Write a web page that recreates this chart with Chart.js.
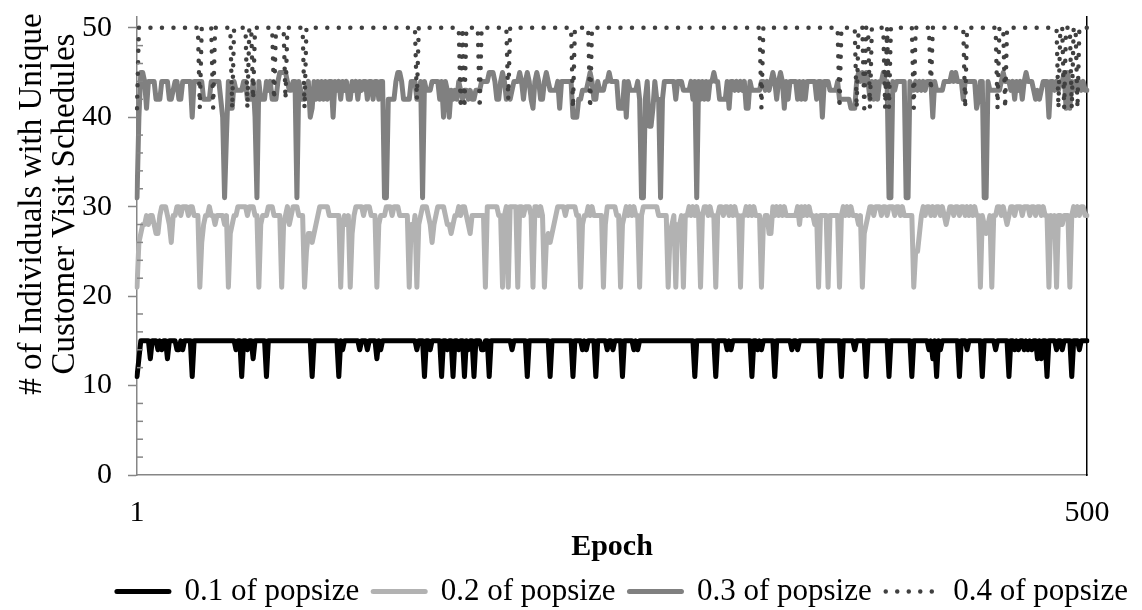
<!DOCTYPE html>
<html>
<head>
<meta charset="utf-8">
<script src="https://cdn.jsdelivr.net/npm/chart.js@4.4.1/dist/chart.umd.min.js"></script>
<style>
  html, body { margin: 0; padding: 0; background: #fff; }
</style>
</head>
<body>
<canvas id="chart" width="1142" height="610"></canvas>
<script>
const epochCount = 500;
const xTickLabels = ['1', '500'];
const yTickLabels = [0, 10, 20, 30, 40, 50];
const yMinorStep = 2;
const seriesNames = ['0.1 of popsize', '0.2 of popsize', '0.3 of popsize', '0.4 of popsize'];

// usual level of each series; the lists below hold every epoch that differs from it, as [epoch, value]
const baseLevels = [15, 30, 44, 50];

const dips01 = [[1,11],[2,13],[8,13],[12,14],[14,14],[17,13],[22,14],[23,14],[25,14],[30,11],[53,14],[56,11],[59,14],[62,13],
  [69,11],[93,11],[107,11],[109,14],[118,14],[122,14],[127,13],[129,14],[148,14],[152,11],[155,14],[161,11],[164,14],[167,11],
  [170,14],[173,11],[175,14],[178,11],[182,14],[183,14],[186,11],[198,14],[206,11],[218,11],[230,11],[235,14],[237,14],[242,11],
  [248,14],[251,14],[256,11],[262,14],[264,14],[294,11],[305,11],[311,14],[313,14],[324,11],[327,14],[329,14],[336,11],[345,14],
  [348,14],[360,11],[371,11],[378,14],[384,11],[396,11],[408,11],[417,14],[419,13],[421,11],[423,14],[433,11],[437,14],[445,11],
  [452,14],[459,11],[462,14],[464,14],[467,14],[469,14],[471,14],[474,13],[476,13],[479,11],[484,14],[487,14],[492,11],[496,14]];

const dips02 = [[1,21],[2,26],[3,27],[4,28],[5,28],[6,29],[7,28],[8,29],[9,29],[10,28],[11,27],[12,27],[13,29],[17,29],[18,28],
  [19,26],[20,29],[21,29],[24,29],[28,29],[31,29],[32,29],[33,29],[34,21],[35,26],[36,28],[37,29],[38,29],[40,29],[41,29],[42,28],
  [43,29],[44,29],[45,29],[46,29],[47,28],[48,29],[49,21],[50,27],[51,28],[52,29],[53,29],[59,29],[63,29],[64,29],[65,21],[66,28],
  [67,29],[68,29],[69,29],[73,29],[74,29],[75,29],[76,29],[77,21],[78,28],[79,29],[81,28],[82,29],[86,29],[87,29],[88,29],[89,21],
  [90,25],[91,27],[92,27],[93,26],[94,27],[95,28],[96,29],[102,29],[103,29],[104,29],[105,29],[106,29],[107,29],[108,21],[109,28],
  [110,29],[111,28],[112,29],[113,21],[114,27],[115,29],[120,29],[124,29],[125,29],[126,29],[127,21],[128,28],[129,29],[130,29],
  [131,29],[135,29],[139,29],[140,29],[141,29],[142,29],[143,29],[144,21],[145,28],[146,27],[147,29],[148,21],[149,28],[150,29],
  [154,29],[155,28],[156,26],[157,28],[158,29],[163,29],[164,28],[165,28],[166,27],[167,28],[168,29],[169,29],[171,29],[174,29],
  [175,28],[176,27],[177,29],[178,29],[179,29],[180,29],[181,29],[182,29],[183,29],[184,21],[191,29],[192,29],[193,21],[194,29],
  [196,21],[201,21],[204,29],[208,29],[209,21],[212,29],[214,29],[215,21],[216,26],[217,27],[218,26],[219,27],[220,28],[221,29],
  [226,29],[232,29],[233,29],[234,21],[235,28],[236,29],[237,29],[239,29],[241,29],[242,29],[243,29],[244,29],[245,29],[246,21],
  [247,28],[253,29],[254,29],[255,21],[256,28],[257,29],[259,29],[261,29],[263,29],[264,29],[265,21],[266,29],[275,29],[276,29],
  [277,29],[278,29],[279,29],[280,21],[281,27],[282,28],[283,29],[284,21],[285,28],[286,28],[287,29],[288,21],[289,29],[290,29],
  [292,29],[294,29],[296,29],[297,21],[298,29],[301,29],[303,29],[304,29],[305,21],[306,29],[309,29],[312,29],[314,29],[316,29],
  [317,29],[318,21],[319,29],[320,29],[322,29],[324,29],[326,29],[327,29],[328,29],[329,21],[330,28],[331,29],[332,29],[333,27],
  [334,27],[336,29],[338,29],[340,29],[342,29],[343,29],[344,29],[345,29],[346,29],[347,29],[349,28],[351,29],[353,29],[355,29],
  [356,29],[357,28],[358,29],[359,21],[360,29],[361,29],[362,29],[363,29],[364,21],[365,29],[366,29],[367,29],[368,29],[369,29],
  [370,21],[371,29],[373,29],[375,29],[377,29],[378,29],[379,29],[380,28],[381,29],[382,21],[383,27],[384,28],[385,29],[388,29],
  [392,29],[395,29],[399,29],[402,29],[404,29],[405,29],[406,29],[407,29],[408,29],[409,21],[410,25],[411,25],[412,27],[413,29],
  [415,29],[418,29],[420,29],[423,29],[425,29],[426,28],[427,29],[430,29],[433,29],[436,29],[438,29],[440,29],[442,29],[443,29],
  [444,21],[445,29],[446,28],[447,27],[448,28],[449,29],[450,21],[451,29],[452,29],[455,29],[457,29],[458,28],[459,29],[462,29],
  [466,29],[470,29],[473,29],[476,29],[478,29],[479,29],[480,21],[481,29],[482,28],[483,29],[484,21],[485,29],[486,29],[487,28],
  [488,29],[489,29],[490,29],[491,21],[492,29],[494,29],[496,29],[499,29],[500,29]];

const dips03 = [[1,31],[2,40],[3,45],[4,45],[6,41],[11,42],[12,42],[13,42],[18,42],[19,42],[20,43],[23,42],[24,42],[30,40],
  [36,42],[37,42],[38,42],[39,42],[45,42],[46,40],[47,31],[48,38],[50,41],[51,41],[53,43],[54,43],[55,43],[56,43],[59,42],[60,42],
  [61,42],[63,40],[64,31],[66,42],[67,42],[68,42],[70,43],[72,42],[73,42],[74,42],[76,45],[77,45],[78,45],[79,45],[81,43],[82,43],
  [85,31],[87,43],[88,42],[89,42],[90,43],[92,40],[93,41],[95,42],[97,42],[99,42],[101,42],[104,40],[106,43],[108,42],[110,43],
  [112,42],[113,42],[115,43],[117,42],[119,43],[122,42],[125,42],[128,42],[131,31],[132,31],[133,42],[134,42],[135,42],[136,42],
  [138,45],[139,45],[141,42],[142,42],[143,42],[144,42],[148,42],[149,42],[151,31],[153,43],[154,43],[155,43],[160,42],[162,40],
  [164,43],[165,40],[166,43],[167,42],[168,43],[169,42],[171,43],[172,42],[173,43],[174,43],[175,42],[176,43],[177,42],[178,42],
  [179,43],[180,43],[181,43],[186,45],[187,45],[188,45],[190,42],[191,42],[193,45],[195,42],[196,43],[197,42],[198,43],[202,45],
  [204,42],[206,45],[208,42],[209,41],[211,45],[213,42],[214,42],[216,45],[218,43],[219,43],[220,43],[221,43],[223,41],[230,40],
  [231,40],[232,40],[233,42],[234,42],[235,43],[236,43],[237,43],[239,45],[241,42],[242,42],[244,43],[245,43],[246,43],[249,45],
  [254,41],[255,41],[256,41],[258,40],[260,43],[261,43],[262,43],[263,43],[265,42],[266,31],[267,31],[268,42],[270,39],[271,39],
  [272,41],[274,42],[275,42],[276,31],[277,42],[284,42],[288,43],[289,43],[290,43],[291,43],[293,42],[295,31],[297,42],[299,42],
  [301,42],[304,45],[307,42],[308,42],[309,42],[310,42],[312,41],[315,43],[317,43],[319,43],[321,41],[322,41],[324,43],[325,43],
  [326,43],[327,43],[328,43],[331,43],[333,43],[335,45],[337,42],[339,45],[341,41],[343,42],[348,42],[350,42],[352,42],[358,42],
  [361,40],[365,43],[366,43],[367,43],[368,43],[370,42],[371,42],[372,42],[373,42],[374,42],[375,42],[376,41],[377,41],[378,41],
  [380,45],[382,45],[384,45],[386,42],[388,42],[390,42],[393,45],[396,31],[397,31],[399,43],[405,31],[406,31],[408,43],[409,43],
  [411,43],[413,43],[415,43],[419,40],[421,43],[422,43],[423,43],[424,43],[429,45],[431,45],[435,42],[442,41],[443,42],[446,31],
  [447,31],[449,43],[450,43],[451,43],[452,43],[453,43],[454,43],[456,45],[460,43],[462,42],[464,43],[466,42],[468,45],[472,43],
  [473,42],[474,43],[475,42],[476,43],[480,40],[483,43],[485,43],[488,45],[489,41],[490,45],[491,41],[493,43],[495,43],[497,43],
  [499,43],[500,43]];

const dips04 = [[1,41],[34,41],[41,41],[51,41],[59,41],[62,42],[73,42],[79,42],[89,41],[148,42],[171,41],[173,41],[181,41],
  [196,42],[230,41],[239,41],[329,41],[370,41],[379,41],[383,41],[386,41],[394,41],[396,41],[409,41],[418,43],[436,41],[453,41],
  [457,41],[485,41],[488,41],[492,41],[495,41]];

function buildSeries(level, changes) {
    let values = new Array(epochCount).fill(level);
    changes.forEach(([epoch, value]) => { values[epoch - 1] = value; });
    return values;
}

const epochs = Array.from({ length: epochCount }, (_, i) => String(i + 1));

Chart.defaults.font.family = '"Liberation Serif", "Times New Roman", serif';
Chart.defaults.color = '#000';

// small inward ticks between the labelled values on the y axis
const minorTicks = {
    id: 'minorTicks',
    afterDraw(chart) {
        const ctx = chart.ctx;
        const scale = chart.scales.y;
        const left = chart.chartArea.left;
        ctx.save();
        ctx.strokeStyle = '#868686';
        ctx.lineWidth = 1.5;
        for (let v = 0; v <= yTickLabels[yTickLabels.length - 1]; v += yMinorStep) {
            if (yTickLabels.includes(v)) continue;
            const py = scale.getPixelForValue(v);
            ctx.beginPath();
            ctx.moveTo(left, py);
            ctx.lineTo(left + 6, py);
            ctx.stroke();
        }
        ctx.restore();
    }
};

// y title sits higher than the plot centre, as in the original
const yTitle = {
    id: 'yTitle',
    afterDraw(chart) {
        const ctx = chart.ctx;
        ctx.save();
        ctx.translate(32, 204);
        ctx.rotate(-Math.PI / 2);
        ctx.fillStyle = '#000';
        ctx.font = '33px "Liberation Serif", serif';
        ctx.textAlign = 'center';
        ctx.textBaseline = 'middle';
        ctx.fillText('# of Individuals with Unique', 0, 0);
        ctx.fillText('Customer Visit Schedules', 0, 33);
        ctx.restore();
    }
};

const styles = [
    { color: '#000000', width: 5, dash: [] },
    { color: '#b2b2b2', width: 5, dash: [] },
    { color: '#808080', width: 5, dash: [] },
    { color: '#404040', width: 4.5, dash: [0.01, 11.5] }
];
const allDips = [dips01, dips02, dips03, dips04];

// the plot box is placed by the layout padding, not by the tick label heights
function dropScalePadding(s) {
    s.paddingTop = 0;
    s.paddingBottom = 0;
}

chart = new Chart(document.getElementById('chart'), {
    type: 'line',
    data: {
        labels: epochs,
        datasets: seriesNames.map((name, i) => ({
            label: name,
            data: buildSeries(baseLevels[i], allDips[i]),
            borderColor: styles[i].color,
            backgroundColor: styles[i].color,
            borderWidth: styles[i].width,
            borderDash: styles[i].dash,
            borderCapStyle: 'round',
            borderJoinStyle: 'round',
            pointRadius: 0,
            tension: 0,
            fill: false,
            order: i === 3 ? 0 : 1
        }))
    },
    options: {
        responsive: false,
        animation: false,
        layout: { padding: { top: 17, bottom: -7, left: 0, right: 0 } },
        plugins: {
            legend: {
                position: 'bottom',
                align: 'end',
                labels: {
                    usePointStyle: true,
                    pointStyle: 'line',
                    pointStyleWidth: 52,
                    padding: 14,
                    color: '#000',
                    font: { size: 31 },
                    sort: (a, b) => a.datasetIndex - b.datasetIndex,
                    generateLabels: (chart) => Chart.defaults.plugins.legend.labels.generateLabels(chart).map(item => {
                        const ds = chart.data.datasets[item.datasetIndex];
                        return Object.assign(item, {
                            strokeStyle: ds.borderColor,
                            lineWidth: ds.borderWidth,
                            lineDash: ds.borderDash,
                            lineCap: 'round'
                        });
                    })
                }
            },
            tooltip: { enabled: false }
        },
        scales: {
            x: {
                type: 'category',
                grid: { display: false },
                border: { color: '#868686', width: 1.5 },
                ticks: {
                    autoSkip: false,
                    maxRotation: 0,
                    padding: 12,
                    font: { size: 30 },
                    callback: function (v) {
                        let label = this.getLabelForValue(v);
                        return xTickLabels.includes(label) ? label : '';
                    }
                },
                title: { display: true, text: 'Epoch', font: { size: 30, weight: 'bold', lineHeight: 1 }, padding: { top: 0, bottom: 0 } },
                afterFit: (s) => { s.height = 87; }
            },
            y: {
                min: 0,
                max: 51.2,
                afterBuildTicks: (axis) => { axis.ticks = yTickLabels.map(v => ({ value: v })); },
                grid: { drawOnChartArea: false, drawTicks: true, tickLength: 9, tickColor: '#868686', tickWidth: 1.5 },
                border: { color: '#868686', width: 1.5 },
                ticks: { padding: 16, font: { size: 30 } },
                afterFit: (s) => { s.width = 137; dropScalePadding(s); }
            },
            yRight: {
                position: 'right',
                min: 0,
                max: 51.2,
                grid: { display: false, drawTicks: false },
                ticks: { display: false },
                border: { color: '#000', width: 1.5 },
                afterFit: (s) => { s.width = 55; dropScalePadding(s); }
            }
        }
    },
    plugins: [minorTicks, yTitle]
});
</script>
</body>
</html>
